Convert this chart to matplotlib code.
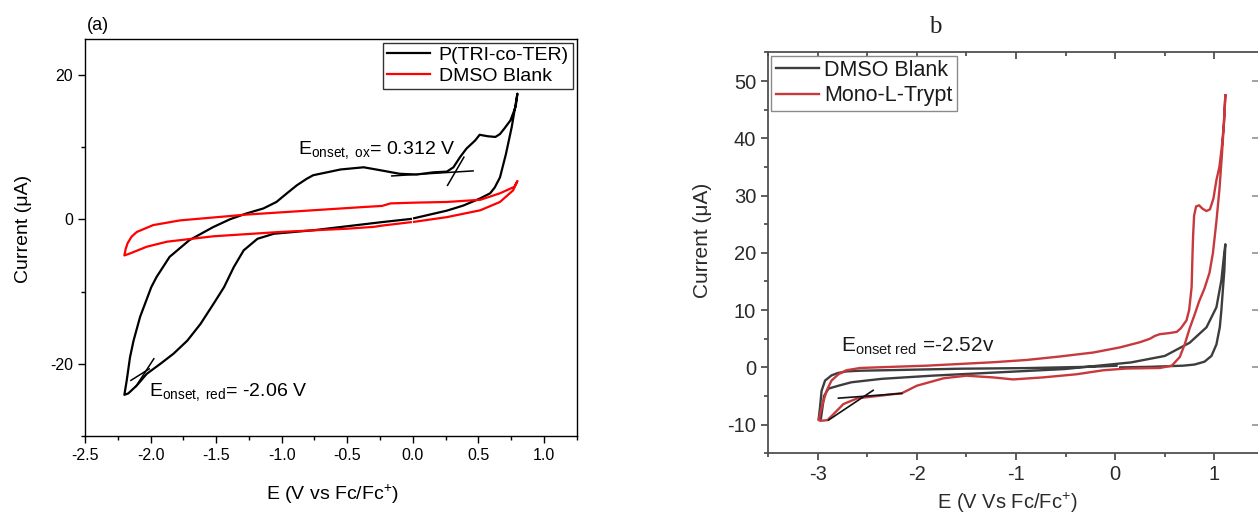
import numpy as np
import matplotlib
matplotlib.use("Agg")
import matplotlib.pyplot as plt
from matplotlib.ticker import MultipleLocator, FormatStrFormatter

plt.rcParams['font.family'] = ['Liberation Sans', 'DejaVu Sans']
plt.rcParams['mathtext.fontset'] = 'custom'
plt.rcParams['mathtext.rm'] = 'Liberation Sans'
plt.rcParams['mathtext.it'] = 'Liberation Sans'
plt.rcParams['mathtext.default'] = 'regular'
plt.rcParams['axes.unicode_minus'] = False

# ---- panel (a): CV traces, (E in V, I in uA) ----
tri_co_ter = [
    (0.01, 0.15), (0.26, 1.2), (0.385, 1.9), (0.515, 2.9), (0.59, 3.6), (0.625, 4.4),
    (0.665, 5.8), (0.71, 9.0), (0.755, 12.8), (0.798, 17.4),
    (0.785, 15.6), (0.745, 13.7), (0.70, 12.6), (0.665, 11.8), (0.63, 11.4), (0.57, 11.5),
    (0.51, 11.7), (0.475, 10.9), (0.41, 9.8), (0.36, 8.6), (0.31, 7.2), (0.26, 6.6),
    (0.155, 6.5), (0.03, 6.2), (-0.10, 6.3), (-0.25, 6.8), (-0.375, 7.2), (-0.55, 6.9),
    (-0.76, 6.1), (-0.81, 5.6), (-0.885, 4.7), (-0.96, 3.6), (-1.04, 2.4), (-1.14, 1.5),
    (-1.27, 0.8), (-1.395, 0.0), (-1.525, -1.1), (-1.705, -2.9), (-1.855, -5.2),
    (-1.955, -8.0), (-1.995, -9.4), (-2.08, -13.5), (-2.13, -16.8), (-2.157, -19.1),
    (-2.182, -22.3), (-2.20, -24.3),
    (-2.17, -24.1), (-2.105, -23.0), (-2.03, -21.4), (-1.925, -20.0), (-1.825, -18.6),
    (-1.72, -16.8), (-1.62, -14.5), (-1.52, -11.7), (-1.44, -9.4), (-1.365, -6.6),
    (-1.29, -4.3), (-1.185, -2.7), (-1.06, -2.0), (-0.75, -1.5), (-0.24, -0.4), (-0.015, 0.05),
]
dmso_a = [
    (0.01, -0.35), (0.26, 0.3), (0.515, 1.25), (0.665, 2.4), (0.765, 4.0), (0.798, 5.3),
    (0.775, 4.5), (0.665, 3.6), (0.515, 2.7), (0.26, 2.4), (0.0, 2.3), (-0.17, 2.2),
    (-0.235, 1.85), (-0.375, 1.7), (-0.76, 1.25), (-1.27, 0.65), (-1.775, -0.15),
    (-1.98, -0.8), (-2.105, -1.75), (-2.145, -2.4), (-2.175, -3.3), (-2.19, -4.1), (-2.20, -5.0),
    (-2.16, -4.75), (-2.03, -3.8), (-1.875, -3.1), (-1.52, -2.35), (-1.01, -1.75),
    (-0.5, -1.3), (-0.3, -1.05), (-0.225, -0.85), (-0.015, -0.4),
]
onset_ox_flat = [(-0.16, 6.0), (0.46, 6.7)]
onset_ox_steep = [(0.265, 4.7), (0.39, 8.6)]
onset_red_flat = [(-2.15, -22.3), (-2.01, -20.7)]
onset_red_steep = [(-2.115, -23.2), (-1.975, -19.3)]

# ---- panel (b) ----
dmso_b = [
    (0.013, 0.29), (-0.22, 0.12), (-0.89, -0.12), (-1.565, -0.23), (-2.24, -0.47),
    (-2.57, -0.58), (-2.71, -0.7), (-2.80, -1.0), (-2.86, -1.4), (-2.925, -2.3),
    (-2.96, -4.1), (-2.976, -7.0), (-2.99, -9.1), (-2.97, -9.3),
    (-2.955, -7.5), (-2.935, -5.0), (-2.89, -3.7), (-2.79, -3.2), (-2.66, -2.6),
    (-2.355, -2.0), (-1.85, -1.45), (-1.18, -0.87), (-0.51, -0.29), (-0.17, 0.3),
    (0.16, 0.87), (0.5, 2.0), (0.75, 4.3), (0.92, 7.0), (1.02, 10.5), (1.07, 15.2),
    (1.095, 19.3), (1.11, 21.5),
    (1.10, 17.0), (1.087, 14.0), (1.07, 10.0), (1.054, 7.0), (1.02, 4.0), (0.97, 2.0),
    (0.90, 1.0), (0.80, 0.5), (0.685, 0.3), (0.35, 0.1), (0.05, 0.0),
]
mono_l_trypt = [
    (1.11, 47.5), (1.095, 42.5), (1.075, 38.6), (1.05, 35.0), (1.02, 32.7), (0.99, 29.5),
    (0.955, 27.6), (0.92, 27.3), (0.88, 27.7), (0.845, 28.3), (0.815, 28.1), (0.795, 26.5),
    (0.785, 23.0), (0.779, 19.8), (0.77, 14.0), (0.745, 10.0), (0.718, 8.2), (0.66, 6.8),
    (0.62, 6.2), (0.55, 6.0), (0.45, 5.8), (0.40, 5.5), (0.35, 5.0), (0.25, 4.4),
    (0.05, 3.5), (-0.22, 2.6), (-0.56, 1.9), (-0.89, 1.3), (-1.23, 0.9), (-1.565, 0.6),
    (-1.9, 0.3), (-2.24, 0.1), (-2.57, -0.1), (-2.71, -0.5), (-2.79, -1.2), (-2.86, -2.3),
    (-2.91, -4.1), (-2.96, -7.0), (-2.99, -9.2), (-2.95, -9.3), (-2.90, -9.2),
    (-2.825, -7.9), (-2.74, -6.4), (-2.60, -5.4), (-2.40, -5.0), (-2.15, -4.5),
    (-2.0, -3.2), (-1.73, -1.9), (-1.5, -1.45), (-1.23, -1.75), (-1.03, -2.1),
    (-0.73, -1.75), (-0.39, -1.2), (-0.12, -0.5), (0.11, -0.2), (0.45, -0.1), (0.57, 0.3),
    (0.65, 1.8), (0.70, 4.0), (0.75, 6.8), (0.80, 9.2), (0.845, 11.5), (0.90, 13.8),
    (0.95, 16.5), (0.985, 20.0), (1.02, 25.5), (1.05, 31.0), (1.075, 37.0), (1.097, 43.0),
    (1.11, 47.5),
]
onset_b_flat = [(-2.79, -5.37), (-2.15, -4.55)]
onset_b_steep = [(-2.89, -9.2), (-2.44, -4.0)]


def xy(pts):
    arr = np.array(pts)
    return arr[:, 0], arr[:, 1]


fig = plt.figure(figsize=(12.58, 5.16), dpi=100)

# ================= panel (a) =================
ax = fig.add_axes([0.0676, 0.155, 0.3908, 0.770])
ax.plot(*xy(tri_co_ter), color='black', lw=1.6, solid_joinstyle='round', label='P(TRI-co-TER)')
ax.plot(*xy(dmso_a), color='#ff0000', lw=1.6, solid_joinstyle='round', label='DMSO Blank')
for seg in (onset_ox_flat, onset_ox_steep, onset_red_flat, onset_red_steep):
    ax.plot(*xy(seg), color='black', lw=1.1)

ax.set_xlim(-2.5, 1.25)
ax.set_ylim(-30, 25)
ax.xaxis.set_major_locator(MultipleLocator(0.5))
ax.xaxis.set_minor_locator(MultipleLocator(0.25))
ax.yaxis.set_major_locator(MultipleLocator(20))
ax.yaxis.set_minor_locator(MultipleLocator(10))
ax.xaxis.set_major_formatter(FormatStrFormatter('%.1f'))
ax.tick_params(which='major', direction='out', length=5, width=1, labelsize=11.5)
ax.tick_params(which='minor', direction='out', length=3, width=1)
for s in ax.spines.values():
    s.set_linewidth(1.0)

ax.set_xlabel('E (V vs Fc/Fc$^{+}$)', fontsize=14)
ax.set_ylabel('Current (μA)', fontsize=14)
ax.xaxis.set_label_coords(0.503, -0.118)
ax.yaxis.set_label_coords(-0.108, 0.52)

ax.text(-0.875, 9.0, r'E$_{onset,\ ox}$= 0.312 V', fontsize=14, va='baseline')
ax.text(-2.01, -24.4, r'E$_{onset,\ red}$= -2.06 V', fontsize=14, va='baseline')

leg = ax.legend(loc='upper right', fontsize=14, frameon=True, fancybox=False,
                framealpha=1, edgecolor='#333333', borderaxespad=0.2, borderpad=0.2,
                handlelength=2.2, handletextpad=0.45, labelspacing=0.15)
leg.get_frame().set_linewidth(1.0)
fig.text(87 / 1258, 1 - 26 / 516, '(a)', fontsize=13, va='center', ha='left')

# ================= panel (b) =================
bx = fig.add_axes([0.6105, 0.1215, 0.3943, 0.777])
gray = '#3d3d3d'
red = '#c8393d'
bx.plot(*xy(dmso_b), color=gray, lw=1.7, solid_joinstyle='round', label='DMSO Blank')
bx.plot(*xy(mono_l_trypt), color=red, lw=1.7, solid_joinstyle='round', label='Mono-L-Trypt')
for seg in (onset_b_flat, onset_b_steep):
    bx.plot(*xy(seg), color='#111111', lw=1.2)

bx.set_xlim(-3.5, 1.5)
bx.set_ylim(-15, 55)
bx.xaxis.set_major_locator(MultipleLocator(1))
bx.xaxis.set_minor_locator(MultipleLocator(0.5))
bx.yaxis.set_major_locator(MultipleLocator(10))
bx.yaxis.set_minor_locator(MultipleLocator(5))
spine_c = '#505050'
for s in bx.spines.values():
    s.set_linewidth(1.3)
    s.set_color(spine_c)
bx.tick_params(which='major', direction='out', length=5, width=1.3, color=spine_c,
               labelsize=14.5, labelcolor='#2a2a2a')
bx.tick_params(which='minor', direction='out', length=3, width=1.3, color=spine_c)

top = bx.secondary_xaxis('top')
top.xaxis.set_major_locator(MultipleLocator(1))
top.xaxis.set_minor_locator(MultipleLocator(0.5))
top.tick_params(which='major', direction='in', length=5, width=1.3, color=spine_c, labeltop=False)
top.tick_params(which='minor', direction='in', length=3, width=1.3, color=spine_c)
top.spines['top'].set_visible(False)
right = bx.secondary_yaxis('right')
right.yaxis.set_major_locator(MultipleLocator(10))
right.yaxis.set_minor_locator(MultipleLocator(5))
right.tick_params(which='major', direction='in', length=9, width=1.3, color='#9a9a9a', labelright=False)
right.tick_params(which='minor', direction='in', length=0)
right.spines['right'].set_visible(False)

bx.set_xlabel('E (V Vs Fc/Fc$^{+}$)', fontsize=14.5, color='#2a2a2a')
bx.set_ylabel('Current (μA)', fontsize=15, color='#2a2a2a')
bx.xaxis.set_label_coords(0.483, -0.094)
bx.yaxis.set_label_coords(-0.113, 0.53)

bx.text(-2.765, 2.8, r'E$_{onset\ red}$ =-2.52v', fontsize=15, va='baseline', color='#1a1a1a')

legb = bx.legend(loc='upper left', fontsize=15.5, frameon=True, fancybox=False,
                 framealpha=1, edgecolor='#8a8a8a', borderaxespad=0.15, borderpad=0.2,
                 handlelength=2.0, handletextpad=0.25, labelspacing=0.2)
legb.get_frame().set_linewidth(1.0)
for t in legb.get_texts():
    t.set_color('#1a1a1a')

fig.text(935 / 1258, 1 - 27 / 516, 'b', fontsize=18, ha='center', va='center',
         family=['Liberation Serif', 'DejaVu Serif'], color='#222222')

fig.savefig('out.png', dpi=100)
